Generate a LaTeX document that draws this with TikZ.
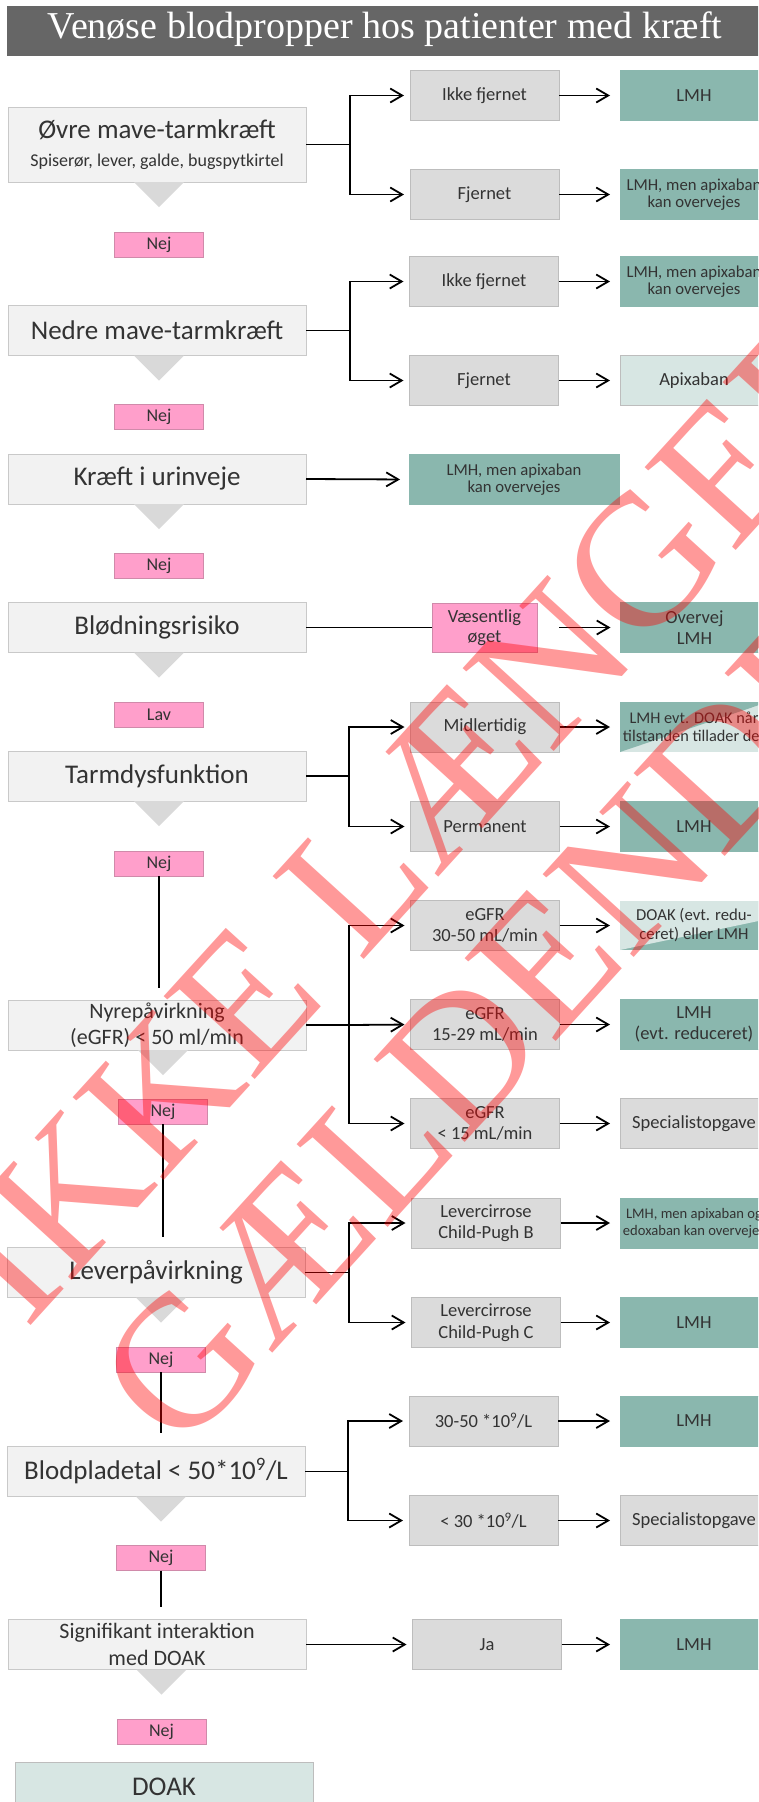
\documentclass[tikz,border=0pt]{standalone}
\usepackage{fontspec}
\setmainfont{Carlito}
\newfontfamily\titlefont{Liberation Serif}
\usetikzlibrary{arrows.meta,calc}
\definecolor{tbar}{HTML}{666666}
\definecolor{mainfill}{HTML}{F2F2F2}
\definecolor{mainline}{HTML}{C9C9C9}
\definecolor{midfill}{HTML}{DBDBDB}
\definecolor{midline}{HTML}{BDBDBD}
\definecolor{tealdark}{HTML}{8AB7AE}
\definecolor{teallight}{HTML}{D7E6E3}
\definecolor{pinkfill}{HTML}{FF9FCB}
\definecolor{pinkline}{HTML}{D08AAA}
\definecolor{trifill}{HTML}{D9D9D9}
\definecolor{txt}{HTML}{333333}
\begin{document}
\begin{tikzpicture}[x=1pt,y=-1pt,
  every node/.style={inner sep=0pt, outer sep=0pt, text=txt, align=center},
  mainbox/.style={fill=mainfill, draw=mainline, line width=0.8pt, minimum width=298pt, minimum height=50pt, font=\fontsize{27}{31}\selectfont},
  mainsmall/.style={mainbox, font=\fontsize{22}{26.5}\selectfont},
  midbox/.style={fill=midfill, draw=midline, line width=0.8pt, minimum width=149pt, minimum height=50pt, font=\fontsize{18.5}{21.5}\selectfont},
  resdark/.style={fill=tealdark, draw=tealdark, line width=0.8pt, minimum width=148pt, minimum height=50pt, font=\fontsize{18.5}{21.5}\selectfont},
  ressmall/.style={resdark, font=\fontsize{16.7}{17.5}\selectfont},
  reslight/.style={resdark, fill=teallight, draw=midline},
  resgray/.style={resdark, fill=midfill, draw=midline},
  nejbox/.style={fill=pinkfill, draw=pinkline, line width=0.6pt, minimum width=89pt, minimum height=25pt, font=\fontsize{18}{20}\selectfont},
  conn/.style={draw=black, line width=1.8pt},
  arr/.style={conn, -{Straight Barb[length=12pt,width=14pt]}, shorten >=6pt},
  arrb/.style={arr, shorten >=10pt},
  tri/.style={fill=trifill},
  wm/.style={font=\titlefont\fontsize{188}{188}\selectfont, text=red, text opacity=0.4}
]
\useasboundingbox (0,0) rectangle (758,1802);
\clip (0,0) rectangle (758,1802);
\fill[white] (0,0) rectangle (758,1802);

% title
\fill[tbar] (7,6) rectangle (770,56);
\node[font=\titlefont\fontsize{38}{40}\selectfont, text=white] (title) at (385,29) {Venøse blodpropper hos patienter med kræft};

% main column
\node[mainbox, minimum height=75pt] (m1) at (157,144.5) {{\fontsize{27}{31}\selectfont Øvre mave-tarmkræft}\\[-3pt]{\fontsize{18}{20}\selectfont Spiserør, lever, galde, bugspytkirtel}};
\node[mainbox] (m2) at (157,330.5) {Nedre mave-tarmkræft};
\node[mainbox] (m3) at (157,479) {Kræft i urinveje};
\node[mainbox] (m4) at (157,627.5) {Blødningsrisiko};
\node[mainbox] (m5) at (157,776) {Tarmdysfunktion};
\node[mainsmall] (m6) at (157,1025) {Nyrepåvirkning\\(eGFR) < 50 ml/min};
\node[mainbox] (m7) at (156,1272.5) {Leverpåvirkning};
\node[mainbox] (m8) at (156,1471.5) {Blodpladetal < 50*10\textsuperscript{9}/L};
\node[mainsmall] (m9) at (157,1644.5) {Signifikant interaktion\\med DOAK};
\node[mainbox, fill=teallight, draw=midline] (m10) at (164,1787) {DOAK};

% answer boxes
\node[nejbox] (n1) at (159,244.5) {Nej};
\node[nejbox] (n2) at (159,417) {Nej};
\node[nejbox] (n3) at (159,565.5) {Nej};
\node[nejbox] (n4) at (159,714.5) {Lav};
\node[nejbox] (n5) at (159,863.5) {Nej};
\node[nejbox] (n6) at (163,1111.5) {Nej};
\node[nejbox] (n7) at (161,1359.5) {Nej};
\node[nejbox] (n8) at (161,1558) {Nej};
\node[nejbox] (n9) at (161.5,1731.5) {Nej};

% triangles
\foreach \m/\n in {m1/n1,m2/n2,m3/n3,m4/n4,m5/n5,m6/n6,m7/n7,m8/n8,m9/n9}{
  \fill[tri] ($(\m.south -| \n.center)+(-25,0)$) -- ++(50,0) -- ++(-25,25) -- cycle;
}

% vertical links
\draw[conn, shorten >=12pt] (n5.south) -- (n5.south |- m6.north);
\draw[conn, shorten >=11pt] (n6.south) -- (n6.south |- m7.north);
\draw[conn, shorten >=14pt] (n7.south) -- (n7.south |- m8.north);
\draw[conn, shorten >=13pt] (n8.south) -- (n8.south |- m9.north);

% middle column
\node[midbox] (c11) at (484.5,95.5) {Ikke fjernet};
\node[midbox] (c12) at (484.5,194.5) {Fjernet};
\node[midbox] (c21) at (484,281.5) {Ikke fjernet};
\node[midbox] (c22) at (484,380.5) {Fjernet};
\node[ressmall, minimum width=210pt] (c3) at (514,479.5) {LMH, men apixaban\\kan overvejes};
\node[nejbox, minimum width=105pt, minimum height=49pt, font=\fontsize{18.5}{19.5}\selectfont] (vo) at (484.5,627.5) {Væsentlig\\øget};
\node[midbox] (c51) at (485,727) {Midlertidig};
\node[midbox] (c52) at (485,826.5) {Permanent};
\node[midbox] (c61) at (485,925.5) {eGFR\\30-50 mL/min};
\node[midbox] (c62) at (485,1024.5) {eGFR\\15-29 mL/min};
\node[midbox] (c63) at (485,1123.5) {eGFR\\< 15 mL/min};
\node[midbox] (c71) at (486,1223) {Levercirrose\\Child-Pugh B};
\node[midbox] (c72) at (486,1322.5) {Levercirrose\\Child-Pugh C};
\node[midbox] (c81) at (483.5,1421) {30-50 *10\textsuperscript{9}/L};
\node[midbox] (c82) at (483.5,1520.5) {< 30 *10\textsuperscript{9}/L};
\node[midbox] (c9) at (487,1644.5) {Ja};

% right column
\node[resdark] (r11) at (694,95.5) {LMH};
\node[ressmall] (r12) at (694,194.5) {LMH, men apixaban\\kan overvejes};
\node[ressmall] (r21) at (694,281.5) {LMH, men apixaban\\kan overvejes};
\node[reslight] (r22) at (694,380.5) {Apixaban};
\node[resdark] (r4) at (694.5,627.5) {Overvej\\LMH};
\fill[teallight] (620,702) rectangle (768,752);
\fill[tealdark] (620,702) -- (768,702) -- (620,752) -- cycle;
\node[ressmall, fill=none, draw=none, font=\fontsize{16.3}{18}\selectfont] (r51) at (694,727) {LMH evt. DOAK når\\tilstanden tillader det};
\node[resdark] (r52) at (694,826.5) {LMH};
\fill[tealdark] (620,901) rectangle (768,950);
\fill[teallight] (620,901) -- (768,901) -- (768,919) -- (620,950) -- cycle;
\node[ressmall, fill=none, draw=none, font=\fontsize{16.7}{19}\selectfont] (r61) at (694,925.5) {DOAK (evt. redu-\\ceret) eller LMH};
\node[resdark] (r62) at (694,1024.5) {LMH\\(evt. reduceret)};
\node[resgray] (r63) at (694,1123.5) {Specialistopgave};
\node[resdark, font=\fontsize{14.6}{16.5}\selectfont] (r71) at (694,1223) {LMH, men apixaban og\\edoxaban kan overvejes};
\node[resdark] (r72) at (694,1322.5) {LMH};
\node[resdark] (r81) at (694,1421) {LMH};
\node[resgray] (r82) at (694,1520.5) {Specialistopgave};
\node[resdark] (r9) at (694,1644.5) {LMH};

% connectors
\draw[conn] (m1.east) -- ++(44,0) coordinate (b1);
\draw[arr] (b1) |- (c11.west);
\draw[arr] (b1) |- (c12.west);
\draw[conn] (m2.east) -- ++(44,0) coordinate (b2);
\draw[arr] (b2) |- (c21.west);
\draw[arr] (b2) |- (c22.west);
\draw[arr, shorten >=9pt] (m3.east) -- (c3.west);
\draw[conn] (m4.east) -- (vo.west);
\draw[arrb, shorten <=22pt] (vo.east) -- (r4.west);
\draw[conn] (m5.east) -- ++(43,0) coordinate (b5);
\draw[arr] (b5) |- (c51.west);
\draw[arr] (b5) |- (c52.west);
\draw[conn] (m6.east) -- ++(43,0) coordinate (b6);
\draw[arr] (b6) |- (c61.west);
\draw[arr] (b6) -- (c62.west);
\draw[arr] (b6) |- (c63.west);
\draw[conn] (m7.east) -- ++(44,0) coordinate (b7);
\draw[arr] (b7) |- (c71.west);
\draw[arr] (b7) |- (c72.west);
\draw[conn] (m8.east) -- ++(43,0) coordinate (b8);
\draw[arr] (b8) |- (c81.west);
\draw[arr] (b8) |- (c82.west);
\draw[arr] (m9.east) -- (c9.west);

\foreach \a/\b in {c11/r11,c12/r12,c21/r21,c22/r22,c51/r51,c52/r52,c61/r61,c62/r62,c63/r63,c71/r71,c72/r72,c81/r81,c82/r82,c9/r9}{
  \draw[arrb] (\a.east) -- (\a.east -| r11.west);
}

% watermark
\node[wm, rotate=47.7] (wm1) at (454,770) {IKKE LÆNGERE};
\node[wm, rotate=47.7] (wm2) at (490,1024) {GÆLDENDE};
\end{tikzpicture}
\end{document}
